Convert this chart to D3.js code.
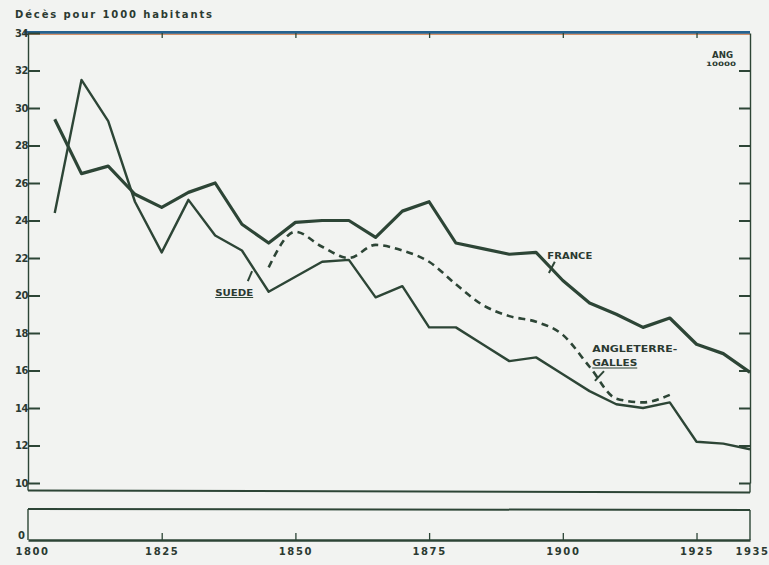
<!DOCTYPE html>
<html>
<head>
<meta charset="utf-8">
<script src="https://cdn.jsdelivr.net/npm/d3@7"></script>
<style>
  html, body { margin: 0; padding: 0; background: #f2f3f1; }
  svg { display: block; }
  text { font-family: "DejaVu Sans", sans-serif; fill: #2b3a31; }
</style>
</head>
<body>
<svg id="chart" width="769" height="565"></svg>
<script>
// ---------- data ----------
const years = [1805,1810,1815,1820,1825,1830,1835,1840,1845,1850,1855,1860,1865,1870,1875,1880,1885,1890,1895,1900,1905,1910,1915,1920,1925,1930,1935];
const france = [29.4,26.5,26.9,25.4,24.7,25.5,26.0,23.8,22.8,23.9,24.0,24.0,23.1,24.5,25.0,22.8,22.5,22.2,22.3,20.8,19.6,19.0,18.3,18.8,17.4,16.9,15.9];
const suede  = [24.4,31.5,29.3,25.0,22.3,25.1,23.2,22.4,20.2,21.0,21.8,21.9,19.9,20.5,18.3,18.3,17.4,16.5,16.7,15.8,14.9,14.2,14.0,14.3,12.2,12.1,11.8];
const yearsAG = [1845,1850,1855,1860,1865,1870,1875,1880,1885,1890,1895,1900,1905,1910,1915,1920];
const angleterre = [21.5,23.4,22.6,22.0,22.7,22.4,21.8,20.6,19.5,18.9,18.6,17.9,16.2,14.5,14.3,14.7];
const yTicks = [10,12,14,16,18,20,22,24,26,28,30,32,34];
const xTicks = [1825,1850,1875,1900,1925];
const xLabels = [1800,1825,1850,1875,1900,1925,1935];
const title = "Décès pour 1000 habitants";

// ---------- layout ----------
const ink = "#2d4536";
const svg = d3.select("#chart");
const x = d3.scaleLinear().domain([1800, 1935]).range([28, 750]);
const y = d3.scaleLinear().domain([10, 34]).range([483, 33]);
const yLow = d3.scaleLinear().domain([0, 1.65]).range([540, 509]);
const x0 = x(1800), x1 = x(1935);

// title
svg.append("text").attr("x", 15).attr("y", 18)
  .attr("font-family", "DejaVu Sans Mono").attr("font-weight", "bold")
  .attr("font-size", 10).attr("textLength", 197).attr("lengthAdjust", "spacing")
  .text(title);

// top border (scanned, coloured fringe)
svg.append("line").attr("x1", x0 - 4).attr("x2", x1).attr("y1", y(34) + 1.2).attr("y2", y(34) + 1.2)
  .attr("stroke", "#c8703c").attr("stroke-width", 1.2);
svg.append("line").attr("x1", x0 - 4).attr("x2", x1).attr("y1", y(34) - 0.6).attr("y2", y(34) - 0.6)
  .attr("stroke", "#24618f").attr("stroke-width", 2.8);

function styleAxis(g) {
  g.selectAll("path.domain").attr("stroke", ink).attr("stroke-width", 1.4);
  g.selectAll(".tick line").attr("stroke", ink).attr("stroke-width", 2);
  g.selectAll(".tick text").attr("font-weight", "bold").attr("fill", "#2b3a31")
    .attr("font-family", "DejaVu Sans Condensed, DejaVu Sans").attr("font-size", 10);
}

// left axis (upper part)
const gl = svg.append("g").attr("transform", `translate(${x0},0)`)
  .call(d3.axisLeft(y).tickValues(yTicks).tickSize(-12).tickSizeOuter(0).tickPadding(0).tickFormat(d3.format("d")));
styleAxis(gl);
gl.selectAll(".tick text").attr("letter-spacing", -0.5);

// right axis (upper part)
const gr = svg.append("g").attr("transform", `translate(${x1},0)`)
  .call(d3.axisRight(y).tickValues(yTicks.slice(0, -1)).tickSize(-11).tickSizeOuter(0).tickFormat(""));
styleAxis(gr);

// extend vertical edges down to the break
svg.append("line").attr("x1", x0).attr("x2", x0).attr("y1", y(10)).attr("y2", y(9.6)).attr("stroke", ink).attr("stroke-width", 1.4);
svg.append("line").attr("x1", x1).attr("x2", x1).attr("y1", y(10)).attr("y2", y(9.5)).attr("stroke", ink).attr("stroke-width", 1.4);

// top ticks
const gt = svg.append("g").attr("transform", `translate(0,${y(34)})`)
  .call(d3.axisTop(x).tickValues(xTicks).tickSize(-5).tickSizeOuter(0).tickFormat(""));
styleAxis(gt);
gt.select("path.domain").remove();
gt.selectAll(".tick line").attr("stroke-width", 1.3);

// axis-break lines
svg.append("line").attr("x1", x0).attr("x2", x1).attr("y1", y(9.6)).attr("y2", y(9.5))
  .attr("stroke", ink).attr("stroke-width", 2);
svg.append("line").attr("x1", x0).attr("x2", x1).attr("y1", yLow(1.65)).attr("y2", yLow(1.6))
  .attr("stroke", ink).attr("stroke-width", 2);

// lower segment: edges and baseline
svg.append("line").attr("x1", x0).attr("x2", x0).attr("y1", yLow(1.65)).attr("y2", yLow(0)).attr("stroke", ink).attr("stroke-width", 1.4);
svg.append("line").attr("x1", x1).attr("x2", x1).attr("y1", yLow(1.6)).attr("y2", yLow(0)).attr("stroke", ink).attr("stroke-width", 1.4);
const gb = svg.append("g").attr("transform", `translate(0,${yLow(0)})`)
  .call(d3.axisBottom(x).tickValues(xLabels).tickSize(-7).tickSizeOuter(0).tickPadding(8).tickFormat(d3.format("d")));
styleAxis(gb);
gb.select("path.domain").attr("stroke-width", 2.4);
gb.selectAll(".tick line").attr("stroke-width", 1.3).filter(d => d === 1800 || d === 1935).remove();
gb.selectAll(".tick text").attr("letter-spacing", 1.6).attr("font-size", 10);
gb.selectAll(".tick").filter(d => d === 1800).select("text").attr("dx", 4);
gb.selectAll(".tick").filter(d => d === 1935).select("text").attr("dx", 2);

// "0" label on lower segment
svg.append("text").attr("x", x0 - 3).attr("y", yLow(0) - 1).attr("text-anchor", "end")
  .attr("font-weight", "bold").attr("font-size", 10).attr("font-family", "DejaVu Sans Condensed, DejaVu Sans").text("0");

// ---------- series ----------
const line = d3.line().x(d => x(d[0])).y(d => y(d[1]));
svg.append("path").datum(years.map((yr, i) => [yr, france[i]]))
  .attr("d", line).attr("fill", "none").attr("stroke", ink).attr("stroke-width", 3.2).attr("stroke-linejoin", "round");
svg.append("path").datum(years.map((yr, i) => [yr, suede[i]]))
  .attr("d", line).attr("fill", "none").attr("stroke", ink).attr("stroke-width", 2.4).attr("stroke-linejoin", "round");
svg.append("path").datum(yearsAG.map((yr, i) => [yr, angleterre[i]]))
  .attr("d", line.curve(d3.curveMonotoneX)).attr("fill", "none").attr("stroke", ink).attr("stroke-width", 2.6)
  .attr("stroke-dasharray", "7,5");

// ---------- annotations ----------
function label(txt, yr, v, w, underline) {
  svg.append("text").attr("x", x(yr)).attr("y", y(v))
    .attr("font-weight", "bold").attr("font-size", 9.5)
    .attr("font-family", "DejaVu Sans Condensed, DejaVu Sans")
    .attr("textLength", w).attr("lengthAdjust", "spacingAndGlyphs").text(txt);
  if (underline) {
    svg.append("line").attr("x1", x(yr)).attr("x2", x(yr) + w).attr("y1", y(v) + 2).attr("y2", y(v) + 2)
      .attr("stroke", ink).attr("stroke-width", 1.2);
  }
}
function pointer(a, b) {
  svg.append("line").attr("x1", x(a[0])).attr("y1", y(a[1])).attr("x2", x(b[0])).attr("y2", y(b[1]))
    .attr("stroke", ink).attr("stroke-width", 2);
}
label("SUEDE", 1835.0, 20.0, 38, true);
pointer([1841.1, 20.77], [1841.9, 21.3]);
label("FRANCE", 1897.1, 21.95, 45, false);
pointer([1898.5, 21.8], [1897.4, 21.2]);
label("ANGLETERRE-", 1905.5, 16.99, 85, false);
label("GALLES", 1905.5, 16.24, 45, true);
pointer([1907.7, 15.97], [1906.0, 15.45]);

// small stamp top-right
svg.append("text").attr("x", 712).attr("y", 58).attr("font-weight", "bold").attr("font-size", 9)
  .attr("textLength", 21).attr("lengthAdjust", "spacingAndGlyphs").text("ANG");
svg.append("text").attr("x", 706).attr("y", 66).attr("font-weight", "bold").attr("font-size", 6)
  .attr("textLength", 30).attr("lengthAdjust", "spacingAndGlyphs").text("10000");
</script>
</body>
</html>
